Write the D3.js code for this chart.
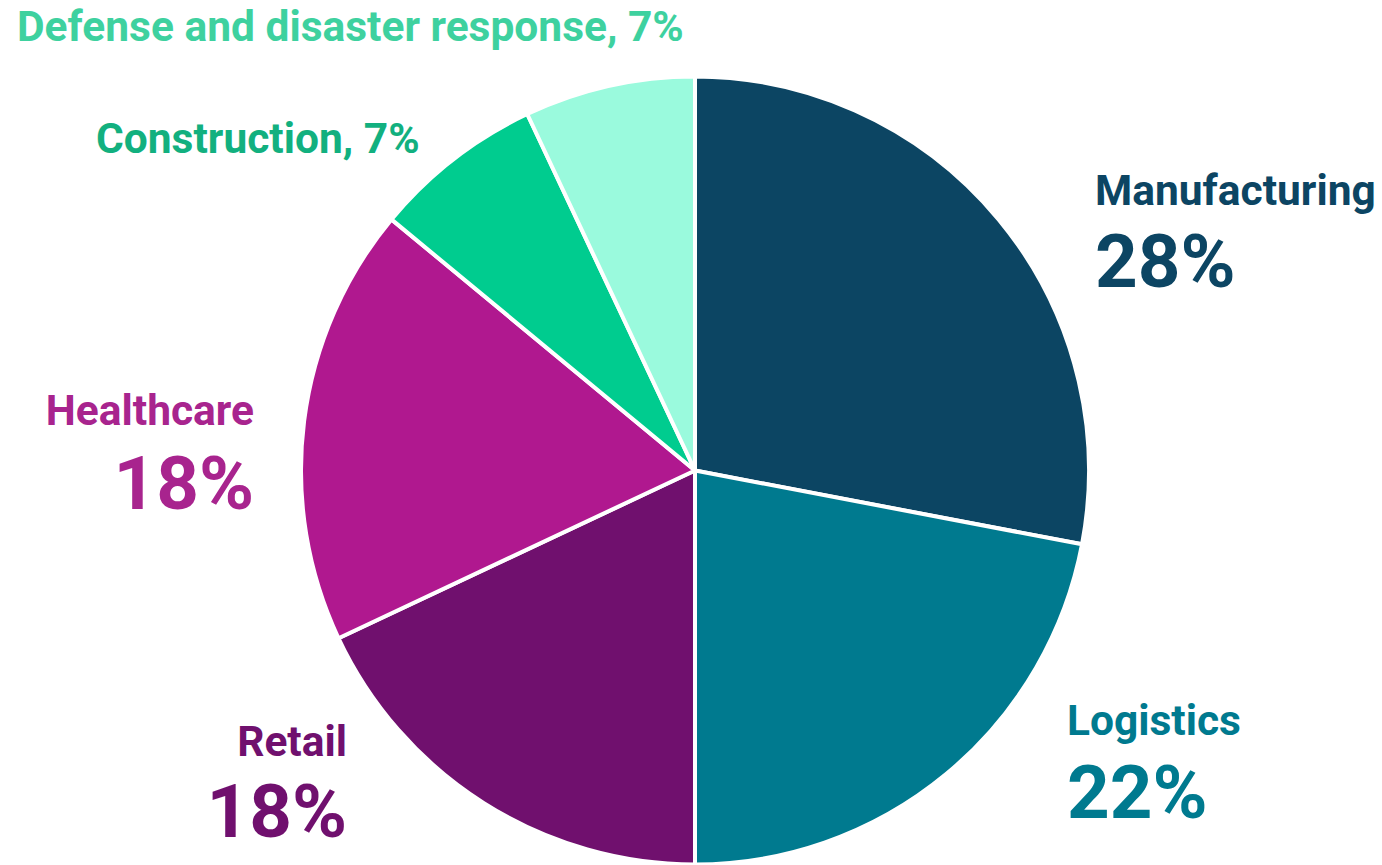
<!DOCTYPE html>
<html>
<head>
<meta charset="utf-8">
<script src="https://cdn.jsdelivr.net/npm/d3@7"></script>
<style>
  html, body { margin: 0; padding: 0; background: #fff; }
  svg { display: block; }
  text { font-family: Roboto, "Noto Sans", sans-serif; font-weight: 700; }
</style>
</head>
<body>
<div id="chart"></div>
<script>
// data, clockwise from 12 o'clock
var categories = ["Manufacturing", "Logistics", "Retail", "Healthcare", "Construction", "Defense and disaster response"];
var shares     = [28, 22, 18, 18, 7, 7];
var sliceColors = ["#0c4563", "#007a8f", "#70106e", "#b0188f", "#00cc8f", "#9afadd"];
var labelColors = ["#0c4563", "#007a8f", "#70106e", "#a8248e", "#12b07f", "#3ed19f"];
// which labels get the big percentage on a second line
var twoLine     = [true, true, true, true, false, false];

var WIDTH  = 1382;
var HEIGHT = 865;
var CX     = 695;
var CY     = 470.5;
var RADIUS = 394;

// label anchor offsets from pie centre: [dx, nameBaseline, pctBaseline, anchor]
var LABEL_POS = [
  [400, -266, -184, 'start'],
  [372, 264, 347, 'start'],
  [-348, 285, 366, 'end'],
  [-441, -46, 38, 'end'],
  [-599, -318, null, 'start'],
  [-678, -430, null, 'start']
];

var svg = d3.select('#chart').append('svg')
  .attr('width', WIDTH)
  .attr('height', HEIGHT);

var g = svg.append('g')
  .attr('transform', 'translate(' + CX + ',' + CY + ')');

var pie = d3.pie().sort(null).value(d => d);
var arc = d3.arc().innerRadius(0).outerRadius(RADIUS);

g.selectAll('path.slice')
  .data(pie(shares))
  .enter().append('path')
    .attr('class', 'slice')
    .attr('d', arc)
    .attr('fill', (d, i) => sliceColors[i])
    .attr('stroke', '#fff')
    .attr('stroke-width', 4)
    .attr('stroke-linejoin', 'round');

var labels = g.selectAll('g.lbl')
  .data(categories)
  .enter().append('g')
    .attr('class', 'lbl');

labels.append('text')
  .attr('x', (d, i) => LABEL_POS[i][0])
  .attr('y', (d, i) => LABEL_POS[i][1])
  .attr('text-anchor', (d, i) => LABEL_POS[i][3])
  .style('font-size', '42.5px')
  .style('fill', (d, i) => labelColors[i])
  .text((d, i) => twoLine[i] ? d : d + ', ' + shares[i] + '%');

labels.filter((d, i) => twoLine[i]).append('text')
  .attr('x', d => LABEL_POS[categories.indexOf(d)][0])
  .attr('y', d => LABEL_POS[categories.indexOf(d)][2])
  .attr('text-anchor', d => LABEL_POS[categories.indexOf(d)][3])
  .style('font-size', '74.5px')
  .style('fill', d => labelColors[categories.indexOf(d)])
  .text(d => shares[categories.indexOf(d)] + '%');
</script>
</body>
</html>
